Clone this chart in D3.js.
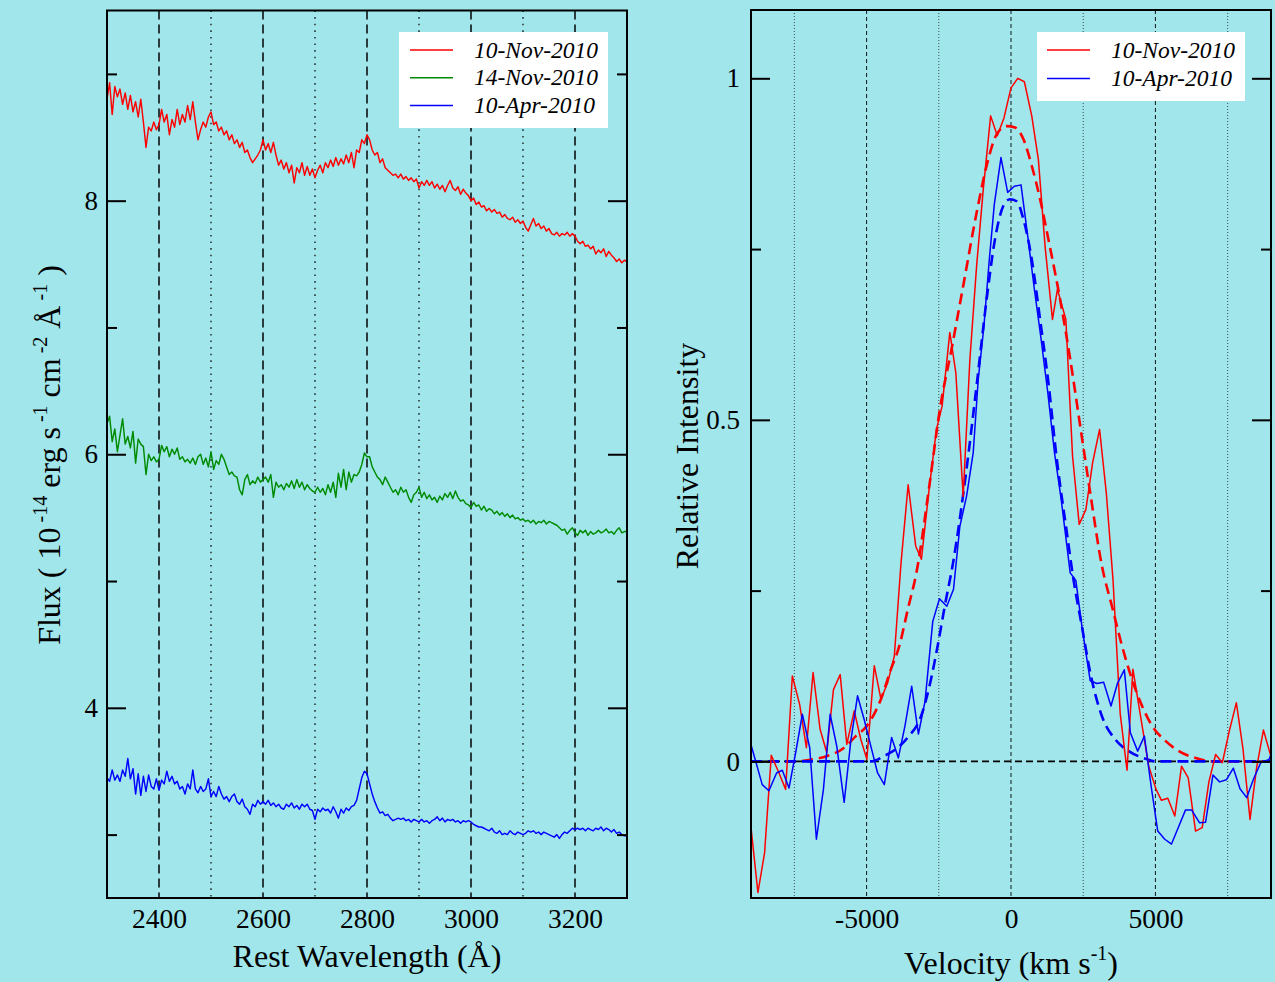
<!DOCTYPE html>
<html>
<head>
<meta charset="utf-8">
<script src="https://cdn.jsdelivr.net/npm/d3@7"></script>
<style>
  html, body { margin: 0; padding: 0; background: #a1e6eb; }
  svg { display: block; }
</style>
</head>
<body>
<svg id="chart" width="1275" height="982"></svg>
<script>
// ---------- Left panel: rest-frame spectra (flux in 1e-14 erg/s/cm2/A), sampled every 5 A ----------
const lambdaStart = 2300;
const lambdaStep = 5;

const fluxNov10 = [
  8.80,8.93,8.68,8.90,8.82,8.88,8.76,8.85,8.72,8.83,8.70,8.78,8.66,8.80,8.62,8.42,8.58,8.55,8.62,8.56,
  8.60,8.72,8.62,8.68,8.52,8.64,8.58,8.72,8.60,8.68,8.62,8.75,8.64,8.78,8.62,8.48,8.56,8.62,8.58,8.66,
  8.70,8.60,8.62,8.55,8.58,8.52,8.55,8.48,8.52,8.45,8.48,8.42,8.46,8.38,8.40,8.34,8.30,8.33,8.36,8.40,
  8.48,8.40,8.45,8.38,8.46,8.36,8.28,8.32,8.25,8.30,8.22,8.28,8.14,8.26,8.22,8.30,8.20,8.27,8.20,8.25,
  8.18,8.24,8.28,8.22,8.30,8.26,8.32,8.27,8.34,8.28,8.33,8.29,8.36,8.30,8.38,8.26,8.40,8.38,8.48,8.45,
  8.52,8.48,8.40,8.36,8.38,8.30,8.33,8.26,8.24,8.22,8.20,8.21,8.18,8.21,8.17,8.19,8.16,8.18,8.15,8.17,
  8.10,8.15,8.12,8.16,8.12,8.15,8.10,8.13,8.09,8.12,8.07,8.12,8.16,8.10,8.08,8.11,8.05,8.09,8.06,8.04,
  8.00,8.02,7.97,7.99,7.95,7.96,7.92,7.94,7.91,7.93,7.90,7.91,7.87,7.89,7.86,7.85,7.87,7.83,7.85,7.82,
  7.84,7.79,7.76,7.81,7.86,7.80,7.82,7.78,7.80,7.76,7.78,7.74,7.73,7.75,7.72,7.74,7.73,7.75,7.72,7.74,
  7.72,7.68,7.66,7.68,7.64,7.65,7.62,7.64,7.58,7.61,7.59,7.62,7.56,7.60,7.57,7.55,7.52,7.54,7.51,7.53,
  7.52
];

const fluxNov14 = [
  6.24,6.30,6.10,6.20,6.02,6.15,6.28,6.08,6.14,6.05,6.18,5.93,6.12,6.08,6.06,5.84,6.00,5.95,5.98,5.94,
  5.96,6.07,6.02,6.06,5.98,6.04,6.00,6.05,5.96,5.98,5.94,5.96,5.93,5.97,5.92,5.98,6.00,5.92,5.97,5.90,
  6.02,5.88,5.95,5.92,6.00,5.96,5.90,5.84,5.86,5.83,5.82,5.72,5.68,5.80,5.84,5.76,5.79,5.77,5.82,5.78,
  5.80,5.82,5.78,5.84,5.66,5.78,5.74,5.76,5.72,5.77,5.74,5.79,5.73,5.80,5.74,5.78,5.72,5.76,5.73,5.71,
  5.70,5.74,5.70,5.73,5.68,5.76,5.70,5.78,5.66,5.85,5.74,5.88,5.72,5.86,5.78,5.84,5.83,5.86,5.92,6.01,
  5.98,5.98,5.90,5.86,5.82,5.80,5.76,5.82,5.78,5.74,5.70,5.72,5.68,5.74,5.70,5.72,5.66,5.62,5.68,5.70,
  5.74,5.66,5.70,5.65,5.68,5.64,5.66,5.62,5.67,5.64,5.69,5.66,5.70,5.65,5.71,5.66,5.63,5.64,5.61,5.60,
  5.58,5.62,5.59,5.60,5.56,5.59,5.55,5.57,5.56,5.53,5.55,5.52,5.54,5.51,5.53,5.50,5.52,5.49,5.50,5.48,
  5.49,5.47,5.48,5.46,5.48,5.45,5.47,5.46,5.48,5.45,5.47,5.46,5.45,5.44,5.42,5.40,5.41,5.37,5.40,5.42,
  5.38,5.36,5.40,5.38,5.40,5.36,5.39,5.37,5.38,5.40,5.38,5.39,5.41,5.38,5.39,5.37,5.40,5.42,5.38,5.39,
  5.39
];

const fluxApr10 = [
  3.45,3.42,3.51,3.43,3.47,3.42,3.51,3.46,3.60,3.44,3.52,3.32,3.48,3.31,3.46,3.34,3.47,3.38,3.36,3.44,
  3.35,3.43,3.40,3.50,3.42,3.46,3.40,3.42,3.36,3.38,3.32,3.40,3.36,3.51,3.36,3.33,3.38,3.34,3.36,3.44,
  3.30,3.34,3.30,3.38,3.32,3.28,3.30,3.26,3.30,3.32,3.26,3.24,3.28,3.22,3.20,3.16,3.24,3.22,3.27,3.24,
  3.26,3.24,3.27,3.23,3.25,3.22,3.24,3.21,3.20,3.24,3.22,3.25,3.21,3.23,3.20,3.24,3.22,3.24,3.20,3.19,
  3.12,3.20,3.18,3.21,3.19,3.20,3.17,3.22,3.18,3.13,3.20,3.17,3.21,3.19,3.22,3.23,3.27,3.36,3.45,3.50,
  3.48,3.40,3.32,3.26,3.21,3.17,3.18,3.15,3.16,3.13,3.11,3.12,3.13,3.12,3.13,3.11,3.12,3.10,3.12,3.11,
  3.10,3.12,3.10,3.11,3.09,3.11,3.12,3.14,3.11,3.13,3.10,3.12,3.11,3.12,3.10,3.11,3.09,3.11,3.10,3.11,
  3.10,3.08,3.07,3.06,3.06,3.05,3.04,3.03,3.05,3.02,3.01,3.03,3.00,3.01,3.00,3.03,3.01,3.00,3.02,3.01,
  3.00,3.01,3.03,3.02,3.03,3.01,3.02,3.00,3.02,3.01,3.00,2.99,2.98,3.00,2.97,3.00,3.02,3.01,3.03,3.05,
  3.04,3.05,3.04,3.05,3.03,3.05,3.04,3.03,3.05,3.04,3.06,3.03,3.05,3.04,3.02,3.04,3.01,3.02,3.00,2.99,
  2.99
];

const wlTickLabels = [2400, 2600, 2800, 3000, 3200];
const wlDashed = [2400, 2600, 2800, 3000, 3200];
const wlDotted = [2500, 2700, 2900, 3100];
const fluxMajor = [4, 6, 8];
const fluxMinor = [3, 5, 7, 9];

// ---------- Right panel: Mg II line profiles vs velocity ----------
const velNov10 = [-9017,-8761,-8530,-8298,-8031,-7801,-7569,-7315,-7083,-6851,-6608,-6378,-6146,-5913,-5684,-5427,-5198,-4989,-4733,-4503,
  -4270,-4039,-3808,-3560,-3298,-3101,-2836,-2580,-2385,-2118,-1910,-1655,-1424,-1191,-961,-705,-475,-243,0,232,
  463,718,948,1180,1435,1608,1899,2130,2361,2593,2824,3066,3299,3531,3780,4016,4220,4470,4768,5023,
  5208,5428,5670,5903,6134,6389,6620,6850,7083,7315,7560,7801,8031,8274,8500,8738,8993];
const relNov10 = [-0.090,-0.192,-0.134,0.009,-0.017,-0.041,0.125,0.083,0.020,0.130,0.047,0.013,0.105,0.127,0.025,0.074,0.032,0.003,0.140,0.091,
  0.115,0.154,0.290,0.405,0.315,0.296,0.398,0.486,0.520,0.628,0.569,0.388,0.588,0.725,0.837,0.945,0.916,0.942,0.986,1.000,
  0.995,0.945,0.881,0.754,0.647,0.691,0.647,0.447,0.347,0.369,0.437,0.486,0.393,0.266,0.070,-0.013,0.135,0.070,-0.007,-0.041,
  -0.057,-0.054,-0.080,-0.007,-0.024,-0.102,-0.097,-0.030,0.010,-0.002,0.045,0.086,0.018,-0.085,-0.010,0.046,0.008];

const velApr10 = [-9017,-8611,-8380,-8114,-7916,-7684,-7453,-7222,-6968,-6736,-6493,-6261,-6030,-5775,-5545,-5313,-5080,-4850,-4618,-4385,
  -4132,-3899,-3670,-3437,-3205,-2976,-2708,-2476,-2222,-1990,-1771,-1539,-1308,-1134,-937,-760,-579,-347,-116,116,
  347,579,810,1042,1273,1505,1736,2049,2245,2453,2743,2975,3206,3461,3692,3923,4132,4385,4618,4850,
  5080,5323,5556,5809,6042,6250,6528,6736,6990,7222,7454,7697,7927,8159,8413,8645,8934,9000];
const relApr10 = [0.027,-0.034,-0.043,-0.017,-0.013,-0.039,0.013,0.069,0.020,-0.114,-0.041,0.069,0.022,-0.060,0.030,0.096,0.061,0.022,-0.017,-0.034,
  0.035,0.005,0.052,0.110,0.040,0.088,0.205,0.238,0.227,0.252,0.344,0.388,0.452,0.559,0.637,0.730,0.815,0.884,0.833,0.842,
  0.844,0.769,0.691,0.618,0.540,0.452,0.384,0.276,0.265,0.198,0.118,0.114,0.116,0.081,0.115,0.134,0.042,0.015,0.037,-0.036,
  -0.102,-0.114,-0.121,-0.095,-0.071,-0.071,-0.090,-0.089,-0.020,-0.030,-0.027,-0.010,-0.040,-0.053,-0.024,-0.002,0.003,0.010];

// fitted profiles (dashed)
const velFitNov10 = [-9000,-7500,-6850,-6354,-5775,-5371,-4989,-4503,-4156,-3865,-3576,-3275,-2812,-2465,-2060,-1655,-1191,-844,-497,-150,
  139,428,718,1007,1296,1701,2049,2396,2743,3148,3496,3843,4190,4537,4884,5347,5809,6389,6968,7500,9000];
const relFitNov10 = [0,0,0.003,0.008,0.020,0.037,0.052,0.091,0.135,0.169,0.222,0.276,0.408,0.515,0.603,0.696,0.803,0.872,0.918,0.930,
  0.928,0.911,0.872,0.823,0.764,0.676,0.589,0.491,0.393,0.286,0.227,0.169,0.120,0.081,0.052,0.030,0.015,0.005,0,0,0];

const velFitApr10 = [-9000,-4850,-4385,-3981,-3576,-3114,-2824,-2535,-2303,-2000,-1539,-1191,-844,-556,-267,-35,197,428,718,1007,
  1296,1586,1933,2164,2453,2743,3148,3611,4074,4653,5000,9000];
const relFitApr10 = [0,0,0.008,0.018,0.035,0.066,0.110,0.170,0.225,0.292,0.428,0.550,0.676,0.764,0.813,0.823,0.820,0.794,0.735,0.647,
  0.554,0.442,0.335,0.266,0.198,0.130,0.066,0.032,0.015,0.004,0,0];

const velTickLabels = [-5000, 0, 5000];
const velDashed = [-5000, 0, 5000];
const velDotted = [-7500, -2500, 2500, 7500];
const relMajor = [0, 0.5, 1];
const relMinor = [0.25, 0.75];

const legendLeft = ["10-Nov-2010", "14-Nov-2010", "10-Apr-2010"];
const legendRight = ["10-Nov-2010", "10-Apr-2010"];

// ---------- drawing ----------
const W = 1275, H = 982;
const SERIF = "'Liberation Serif', 'Times New Roman', serif";
const RED = "#ff0000", GREEN = "#008b00", BLUE = "#0000ff";

const svg = d3.select("#chart");
svg.append("rect").attr("width", W).attr("height", H).attr("fill", "#a1e6eb");

function styleAxis(g, fontSize) {
  g.select(".domain").remove();
  g.selectAll(".tick line").attr("stroke", "#000").attr("stroke-width", 2);
  g.selectAll(".tick text").attr("font-family", SERIF).attr("font-size", fontSize).attr("fill", "#000");
}

// ===== Left panel =====
const xL = d3.scaleLinear().domain([2300, 3300]).range([107, 627]);
const yL = d3.scaleLinear().domain([2.5, 9.5]).range([898, 10.5]);
const left = svg.append("g");

left.selectAll("line.dash").data(wlDashed).join("line")
  .attr("x1", d => xL(d)).attr("x2", d => xL(d))
  .attr("y1", yL(9.5)).attr("y2", yL(2.5))
  .attr("stroke", "#2b3a3c").attr("stroke-width", 2).attr("stroke-dasharray", "9,5");
left.selectAll("line.dot").data(wlDotted).join("line")
  .attr("x1", d => xL(d)).attr("x2", d => xL(d))
  .attr("y1", yL(9.5)).attr("y2", yL(2.5))
  .attr("stroke", "#2b3a3c").attr("stroke-width", 1.6).attr("stroke-dasharray", "1.6,5");

const spectra = [
  { flux: fluxNov10, color: RED },
  { flux: fluxNov14, color: GREEN },
  { flux: fluxApr10, color: BLUE }
];
const specLine = d3.line()
  .x((d, i) => xL(lambdaStart + i * lambdaStep))
  .y(d => yL(d));
left.selectAll("path.spec").data(spectra).join("path")
  .attr("d", d => specLine(d.flux))
  .attr("fill", "none").attr("stroke", d => d.color)
  .attr("stroke-width", 1.45).attr("stroke-linejoin", "round");

left.append("g").attr("transform", "translate(107,0)")
  .call(d3.axisLeft(yL).tickValues(fluxMajor).tickSize(-19).tickPadding(9).tickFormat(d => String(d)))
  .call(g => styleAxis(g, 27));
left.append("g").attr("transform", "translate(107,0)")
  .call(d3.axisLeft(yL).tickValues(fluxMinor).tickSize(-10).tickFormat(""))
  .call(g => styleAxis(g, 27));
left.append("g").attr("transform", "translate(627,0)")
  .call(d3.axisRight(yL).tickValues(fluxMajor).tickSize(-19).tickFormat(""))
  .call(g => styleAxis(g, 27));
left.append("g").attr("transform", "translate(627,0)")
  .call(d3.axisRight(yL).tickValues(fluxMinor).tickSize(-10).tickFormat(""))
  .call(g => styleAxis(g, 27));
left.append("g").attr("transform", "translate(0,898)")
  .call(d3.axisBottom(xL).tickValues(wlTickLabels).tickSize(0).tickPadding(10).tickFormat(d => String(d)))
  .call(g => styleAxis(g, 27.5));

left.append("rect").attr("x", 107).attr("y", 10.5).attr("width", 520).attr("height", 887.5)
  .attr("fill", "none").attr("stroke", "#000").attr("stroke-width", 2);

// legend
const legL = left.append("g");
legL.append("rect").attr("x", 399).attr("y", 32).attr("width", 209).attr("height", 96).attr("fill", "#fff");
legendLeft.forEach((name, i) => {
  const yy = 50 + i * 27.8;
  legL.append("line").attr("x1", 410).attr("x2", 453).attr("y1", yy).attr("y2", yy)
    .attr("stroke", spectra[i].color).attr("stroke-width", 1.5);
  legL.append("text").attr("x", 474).attr("y", yy + 7.5).text(name)
    .attr("font-family", SERIF).attr("font-style", "italic").attr("font-size", 23.5).attr("fill", "#000");
});

// axis titles
left.append("text").attr("x", 367).attr("y", 967).attr("text-anchor", "middle")
  .attr("font-family", SERIF).attr("font-size", 32).attr("fill", "#000")
  .text("Rest Wavelength (Å)");

const yTitle = left.append("text")
  .attr("transform", "translate(60,455) rotate(-90)")
  .attr("text-anchor", "middle")
  .attr("font-family", SERIF).attr("font-size", 32).attr("fill", "#000");
yTitle.append("tspan").text("Flux ( 10");
yTitle.append("tspan").attr("dy", -13).attr("font-size", 20).text(" -14");
yTitle.append("tspan").attr("dy", 13).text(" erg s");
yTitle.append("tspan").attr("dy", -13).attr("font-size", 20).text(" -1");
yTitle.append("tspan").attr("dy", 13).text("  cm");
yTitle.append("tspan").attr("dy", -13).attr("font-size", 20).text(" -2");
yTitle.append("tspan").attr("dy", 13).text(" Å");
yTitle.append("tspan").attr("dy", -13).attr("font-size", 20).text(" -1");
yTitle.append("tspan").attr("dy", 13).text("  )");

// ===== Right panel =====
const xR = d3.scaleLinear().domain([-9000, 9000]).range([751, 1271]);
const yR = d3.scaleLinear().domain([-0.2, 1.1]).range([898, 10]);
const right = svg.append("g");

right.selectAll("line.vdash").data(velDashed).join("line")
  .attr("x1", d => xR(d)).attr("x2", d => xR(d))
  .attr("y1", yR(1.1)).attr("y2", yR(-0.2))
  .attr("stroke", "#1e2a2c").attr("stroke-width", 1.1).attr("stroke-dasharray", "4,3");
right.selectAll("line.vdot").data(velDotted).join("line")
  .attr("x1", d => xR(d)).attr("x2", d => xR(d))
  .attr("y1", yR(1.1)).attr("y2", yR(-0.2))
  .attr("stroke", "#3c4a4c").attr("stroke-width", 1).attr("stroke-dasharray", "1,2");
right.append("line")
  .attr("x1", xR(-9000)).attr("x2", xR(9000)).attr("y1", yR(0)).attr("y2", yR(0))
  .attr("stroke", "#000").attr("stroke-width", 1.6).attr("stroke-dasharray", "7,4");

const zip = (xs, ys) => xs.map((v, i) => [v, ys[i]]);
const profLine = d3.line().x(d => xR(d[0])).y(d => yR(d[1]));
const fitLine = d3.line().x(d => xR(d[0])).y(d => yR(d[1])).curve(d3.curveMonotoneX);

const clip = right.append("clipPath").attr("id", "clipR");
clip.append("rect").attr("x", 751).attr("y", 10).attr("width", 520).attr("height", 888);
const plotR = right.append("g").attr("clip-path", "url(#clipR)");

plotR.append("path").attr("d", fitLine(zip(velFitNov10, relFitNov10)))
  .attr("fill", "none").attr("stroke", RED).attr("stroke-width", 2.6).attr("stroke-dasharray", "11,6");
plotR.append("path").attr("d", fitLine(zip(velFitApr10, relFitApr10)))
  .attr("fill", "none").attr("stroke", BLUE).attr("stroke-width", 2.6).attr("stroke-dasharray", "11,6");
plotR.append("path").attr("d", profLine(zip(velNov10, relNov10)))
  .attr("fill", "none").attr("stroke", RED).attr("stroke-width", 1.5).attr("stroke-linejoin", "round");
plotR.append("path").attr("d", profLine(zip(velApr10, relApr10)))
  .attr("fill", "none").attr("stroke", BLUE).attr("stroke-width", 1.5).attr("stroke-linejoin", "round");

right.append("g").attr("transform", "translate(751,0)")
  .call(d3.axisLeft(yR).tickValues(relMajor).tickSize(-19).tickPadding(11).tickFormat(d => String(d)))
  .call(g => styleAxis(g, 27));
right.append("g").attr("transform", "translate(751,0)")
  .call(d3.axisLeft(yR).tickValues(relMinor).tickSize(-10).tickFormat(""))
  .call(g => styleAxis(g, 27));
right.append("g").attr("transform", "translate(1271,0)")
  .call(d3.axisRight(yR).tickValues(relMajor).tickSize(-19).tickFormat(""))
  .call(g => styleAxis(g, 27));
right.append("g").attr("transform", "translate(1271,0)")
  .call(d3.axisRight(yR).tickValues(relMinor).tickSize(-10).tickFormat(""))
  .call(g => styleAxis(g, 27));
right.append("g").attr("transform", "translate(0,898)")
  .call(d3.axisBottom(xR).tickValues(velTickLabels).tickSize(0).tickPadding(10).tickFormat(d => String(d)))
  .call(g => styleAxis(g, 27.5));

right.append("rect").attr("x", 751).attr("y", 10).attr("width", 520).attr("height", 888)
  .attr("fill", "none").attr("stroke", "#000").attr("stroke-width", 2);

const legR = right.append("g");
legR.append("rect").attr("x", 1037).attr("y", 32).attr("width", 208).attr("height", 69).attr("fill", "#fff");
legendRight.forEach((name, i) => {
  const yy = 50 + i * 28.5;
  legR.append("line").attr("x1", 1047).attr("x2", 1090).attr("y1", yy).attr("y2", yy)
    .attr("stroke", i === 0 ? RED : BLUE).attr("stroke-width", 1.5);
  legR.append("text").attr("x", 1111).attr("y", yy + 7.5).text(name)
    .attr("font-family", SERIF).attr("font-style", "italic").attr("font-size", 23.5).attr("fill", "#000");
});

const vTitle = right.append("text").attr("x", 1011).attr("y", 974).attr("text-anchor", "middle")
  .attr("font-family", SERIF).attr("font-size", 32).attr("fill", "#000");
vTitle.append("tspan").text("Velocity (km s");
vTitle.append("tspan").attr("dy", -14).attr("font-size", 20).text("-1");
vTitle.append("tspan").attr("dy", 14).text(")");

right.append("text")
  .attr("transform", "translate(698,456) rotate(-90)")
  .attr("text-anchor", "middle")
  .attr("font-family", SERIF).attr("font-size", 32).attr("fill", "#000")
  .text("Relative Intensity");
</script>
</body>
</html>
